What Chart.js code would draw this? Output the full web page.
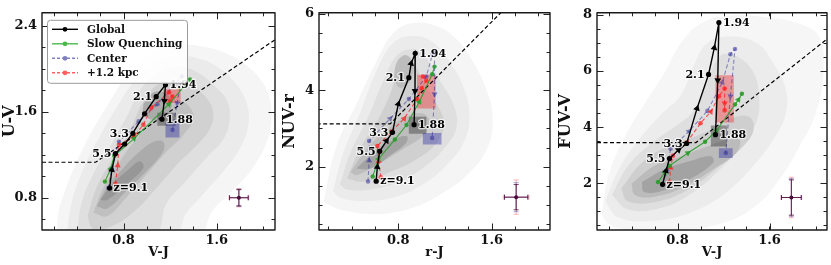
<!DOCTYPE html>
<html>
<head>
<meta charset="utf-8">
<script src="https://cdn.jsdelivr.net/npm/chart.js@4.4.0/dist/chart.umd.min.js"></script>
<style>
  html, body { margin: 0; padding: 0; background: #fff; }
  #wrap { position: relative; width: 831px; height: 265px; }
  canvas { position: absolute; top: 0; }
</style>
</head>
<body>
<div id="wrap">
  <canvas id="uvj" width="280" height="265" style="left:0px"></canvas>
  <canvas id="nuv" width="276" height="265" style="left:280px"></canvas>
  <canvas id="fuv" width="275" height="265" style="left:556px"></canvas>
</div>
<script>
const SERIF = '"DejaVu Serif", "Liberation Serif", serif';

const trackNames = ['Global', 'Slow Quenching', 'Center', '+1.2 kpc'];
const zLabels = ['z=9.1', '5.5', '3.3', '2.1', '1.94', '1.88'];
const zLabelRight = [true, false, false, false, true, true];

// ---------- panel 1: U-V vs V-J ----------
const uvjXTicks = [0.8, 1.6];
const uvjYTicks = [0.8, 1.6, 2.4];
const uvjContours = [
  [[0.23,0.45],[0.24,0.66],[0.31,0.90],[0.40,1.14],[0.54,1.44],[0.69,1.71],[0.83,1.94],[1.00,2.12],[1.23,2.21],[1.46,2.21],[1.69,2.14],[1.89,2.00],[2.03,1.80],[2.07,1.56],[2.03,1.32],[1.91,1.08],[1.74,0.87],[1.57,0.69],[1.43,0.45]],
  [[0.31,0.45],[0.36,0.78],[0.46,1.08],[0.60,1.38],[0.74,1.64],[0.89,1.88],[1.06,2.05],[1.26,2.12],[1.46,2.09],[1.63,2.00],[1.77,1.85],[1.86,1.67],[1.87,1.47],[1.80,1.26],[1.66,1.05],[1.49,0.84],[1.34,0.66],[1.23,0.45]],
  [[0.40,0.45],[0.44,0.75],[0.54,1.02],[0.69,1.29],[0.83,1.56],[0.94,1.80],[1.09,1.96],[1.26,2.02],[1.43,1.97],[1.57,1.85],[1.69,1.70],[1.71,1.53],[1.66,1.35],[1.51,1.17],[1.34,0.96],[1.17,0.75],[1.06,0.45]],
  [[0.49,0.63],[0.57,0.90],[0.71,1.17],[0.86,1.44],[0.97,1.70],[1.09,1.85],[1.23,1.90],[1.37,1.85],[1.51,1.73],[1.57,1.59],[1.54,1.44],[1.43,1.29],[1.26,1.11],[1.09,0.90],[0.91,0.69],[0.71,0.54],[0.54,0.51]],
  [[0.54,0.66],[0.63,0.90],[0.77,1.14],[0.91,1.35],[1.06,1.53],[1.17,1.67],[1.29,1.70],[1.37,1.64],[1.40,1.53],[1.31,1.38],[1.17,1.23],[1.00,1.02],[0.83,0.81],[0.66,0.63]],
  [[0.57,0.72],[0.66,0.90],[0.80,1.08],[0.94,1.23],[1.06,1.32],[1.14,1.32],[1.14,1.23],[1.00,1.05],[0.83,0.87],[0.66,0.70]],
  [[0.97,1.67],[1.03,1.76],[1.11,1.79],[1.20,1.73],[1.20,1.61],[1.11,1.53],[1.03,1.53],[0.97,1.58]],
  [[0.60,0.78],[0.69,0.91],[0.83,1.05],[0.94,1.14],[0.97,1.08],[0.83,0.93],[0.66,0.78]]
];
const uvjShades = ['#f5f5f5', '#ebebeb', '#dfdfdf', '#d1d1d1', '#c0c0c0', '#ababab', '#ababab', '#979797'];
const uvjCut = [[0.1,1.13],[0.56,1.13],[2.1,2.27]];
const uvjGlobal = [[0.68,0.89],[0.70,1.06],[0.73,1.21],[0.81,1.30],[0.88,1.40],[0.98,1.58],[1.08,1.74],[1.16,1.85],[1.15,1.70],[1.13,1.53]];
const uvjGlobalArrows = [1, 8];
const uvjSlow = [[0.64,0.95],[0.69,1.07],[0.72,1.19],[0.89,1.35],[1.19,1.67],[1.37,1.90]];
const uvjSlowArrows = [1, 3, 4];
const uvjCenter = [[0.67,0.89],[0.70,1.08],[0.76,1.32],[0.93,1.51],[1.09,1.67],[1.30,1.93],[1.26,1.68],[1.22,1.43]];
const uvjCenterArrows = [1, 6];
const uvjOuter = [[0.73,0.93],[0.75,1.10],[0.76,1.29],[0.89,1.37],[0.97,1.48],[1.04,1.64],[1.19,1.78],[1.22,1.74],[1.20,1.70]];
const uvjOuterArrows = [1, 3];
const uvjLabelIdx = [0, 2, 4, 6, 7, 9];
// boxes: [x0, x1, y0, y1] for global, center, +1.2 kpc
const uvjBoxGlobal = [1.09, 1.25, 1.47, 1.59];
const uvjBoxCenter = [1.16, 1.28, 1.36, 1.50];
const uvjBoxOuter = [1.14, 1.29, 1.68, 1.81];
const uvjErrCenter = [1.79, 0.80];
const uvjErrX = [0.085, 0.08, 0.08];   // +1.2 kpc, center, global
const uvjErrY = [0.085, 0.08, 0.075];

// ---------- panel 2: NUV-r vs r-J ----------
const nuvXTicks = [0.8, 1.6];
const nuvYTicks = [2, 4, 6];
const nuvContours = [
  [[0.16,1.10],[0.27,2.54],[0.44,3.64],[0.61,4.75],[0.76,5.51],[0.93,5.76],[1.13,5.68],[1.30,5.34],[1.44,4.75],[1.56,3.98],[1.61,3.22],[1.56,2.46],[1.39,1.78],[1.16,1.27],[0.93,0.93],[0.64,0.76],[0.33,0.85],[0.19,1.02]],
  [[0.24,1.36],[0.33,2.37],[0.47,3.39],[0.61,4.49],[0.76,5.25],[0.93,5.42],[1.10,5.25],[1.24,4.75],[1.36,4.07],[1.41,3.31],[1.36,2.63],[1.21,2.03],[1.01,1.53],[0.76,1.19],[0.47,1.10],[0.30,1.19]],
  [[0.30,1.53],[0.39,2.37],[0.53,3.22],[0.67,4.24],[0.79,4.92],[0.93,5.08],[1.04,4.83],[1.16,4.24],[1.27,3.64],[1.30,3.05],[1.21,2.54],[1.04,2.03],[0.81,1.61],[0.56,1.40],[0.36,1.40]],
  [[0.36,1.69],[0.47,2.46],[0.61,3.14],[0.73,3.90],[0.81,4.58],[0.93,4.66],[1.01,4.24],[1.13,3.64],[1.19,3.14],[1.13,2.63],[0.96,2.20],[0.73,1.86],[0.50,1.61]],
  [[0.39,1.86],[0.53,2.46],[0.70,2.97],[0.87,3.31],[1.01,3.39],[1.07,3.14],[1.01,2.80],[0.84,2.46],[0.61,2.03],[0.44,1.78]],
  [[0.76,4.32],[0.79,4.75],[0.87,4.92],[0.93,4.66],[0.90,4.24],[0.81,4.07]],
  [[0.44,1.95],[0.59,2.37],[0.76,2.71],[0.87,2.80],[0.87,2.63],[0.73,2.29],[0.56,1.95]]
];
const nuvShades = ['#f5f5f5', '#ebebeb', '#dfdfdf', '#d0d0d0', '#bdbdbd', '#bdbdbd', '#a3a3a3'];
const nuvCut = [[0.1,3.12],[0.73,3.12],[1.70,6.10]];
const nuvGlobal = [[0.61,1.62],[0.62,1.99],[0.64,2.40],[0.70,2.68],[0.75,2.90],[0.80,3.64],[0.89,4.33],[0.91,4.70],[0.945,4.97],[0.943,3.98],[0.935,3.10]];
const nuvGlobalArrows = [1, 3, 5, 7, 9];
const nuvSlow = [[0.58,1.74],[0.63,2.20],[0.77,2.71],[0.87,3.09],[0.98,3.70],[1.09,4.42],[1.11,4.62]];
const nuvSlowArrows = [1, 4];
const nuvCenter = [[0.54,1.61],[0.55,2.16],[0.55,2.67],[0.73,3.26],[0.89,3.77],[1.04,4.36],[1.09,4.92],[1.11,5.02],[1.11,3.90],[1.09,2.75]];
const nuvCenterArrows = [1, 3, 8];
const nuvOuter = [[0.65,1.72],[0.63,2.14],[0.62,2.54],[0.74,2.92],[0.85,3.26],[0.96,3.77],[1.00,4.05],[1.04,4.25],[1.01,4.36]];
const nuvOuterArrows = [1, 4];
const nuvLabelIdx = [0, 2, 4, 6, 8, 10];
const nuvBoxGlobal = [0.89, 1.04, 2.86, 3.31];
const nuvBoxCenter = [1.01, 1.17, 2.58, 2.88];
const nuvBoxOuter = [0.96, 1.12, 3.52, 4.41];
const nuvErrCenter = [1.81, 1.20];
const nuvErrX = [0.11, 0.10, 0.10];
const nuvErrY = [0.45, 0.38, 0.33];

// ---------- panel 3: FUV-V vs V-J ----------
const fuvXTicks = [0.8, 1.6];
const fuvYTicks = [2, 4, 6, 8];
const fuvContours = [
  [[0.14,0.89],[0.20,2.27],[0.34,3.65],[0.51,4.81],[0.69,5.96],[0.83,7.00],[1.00,7.69],[1.26,7.98],[1.57,7.92],[1.86,7.69],[2.03,7.23],[2.07,5.96],[2.00,4.46],[1.86,3.31],[1.69,2.15],[1.46,1.12],[1.17,0.54],[0.77,0.31],[0.40,0.31],[0.20,0.54]],
  [[0.17,1.35],[0.29,2.50],[0.46,3.54],[0.66,4.46],[0.83,5.15],[0.94,6.19],[1.06,7.00],[1.26,7.23],[1.49,7.00],[1.63,6.31],[1.74,5.38],[1.74,4.46],[1.63,3.54],[1.46,2.62],[1.23,1.69],[0.94,1.00],[0.60,0.66],[0.29,0.77]],
  [[0.23,1.58],[0.37,2.62],[0.57,3.42],[0.77,4.00],[0.94,4.58],[1.06,5.61],[1.17,6.54],[1.31,6.54],[1.46,5.96],[1.51,5.04],[1.49,4.23],[1.37,3.42],[1.17,2.50],[0.94,1.69],[0.66,1.12],[0.37,1.06]],
  [[0.31,1.81],[0.49,2.73],[0.71,3.31],[0.94,3.65],[1.14,4.00],[1.29,4.35],[1.43,4.35],[1.46,3.88],[1.37,3.31],[1.17,2.62],[0.91,1.81],[0.63,1.35],[0.37,1.35]],
  [[0.40,1.98],[0.60,2.62],[0.83,2.96],[1.06,3.31],[1.23,3.54],[1.34,3.54],[1.31,3.08],[1.11,2.50],[0.86,1.87],[0.60,1.52],[0.43,1.58]],
  [[0.49,2.04],[0.69,2.50],[0.91,2.79],[1.09,2.96],[1.11,2.73],[0.91,2.15],[0.69,1.75],[0.51,1.69]]
];
const fuvShades = ['#f6f6f6', '#ececec', '#dfdfdf', '#cfcfcf', '#bbbbbb', '#a3a3a3'];
const fuvCut = [[0.1,3.45],[0.96,3.45],[2.1,7.14]];
const fuvGlobal = [[0.67,1.96],[0.70,2.44],[0.73,2.88],[0.81,3.19],[0.88,3.42],[0.97,4.67],[1.07,5.88],[1.12,6.83],[1.16,7.73],[1.15,5.67],[1.13,3.73]];
const fuvGlobalArrows = [1, 3, 5, 7, 9];
const fuvSlow = [[0.63,2.04],[0.69,2.38],[0.73,2.62],[0.89,3.08],[1.04,3.48],[1.14,3.88],[1.30,4.81],[1.33,4.98],[1.36,5.19]];
const fuvSlowArrows = [1, 3, 5, 7];
const fuvCenter = [[0.67,1.95],[0.71,2.50],[0.74,3.23],[0.90,3.85],[1.06,4.58],[1.19,5.60],[1.26,6.60],[1.30,6.79],[1.26,5.10],[1.22,3.08]];
const fuvCenterArrows = [1, 3, 5, 8];
const fuvOuter = [[0.73,2.04],[0.74,2.56],[0.76,2.98],[0.88,3.45],[1.00,4.14],[1.09,4.55],[1.16,5.10],[1.21,5.38],[1.21,4.85],[1.21,4.60]];
const fuvOuterArrows = [1, 5, 8];
const fuvLabelIdx = [0, 2, 4, 6, 8, 10];
const fuvBoxGlobal = [1.09, 1.23, 3.31, 4.06];
const fuvBoxCenter = [1.16, 1.28, 2.90, 3.25];
const fuvBoxOuter = [1.13, 1.29, 4.17, 5.85];
const fuvErrCenter = [1.79, 1.49];
const fuvErrX = [0.09, 0.086, 0.086];
const fuvErrY = [0.72, 0.67, 0.63];

// ---------- styling ----------
const colGlobal = '#000000';
const colSlow = 'rgba(40,155,40,0.9)';
const colCenter = 'rgba(40,40,150,0.5)';
const colOuter = 'rgba(255,25,25,0.72)';
const legendColors = ['#000000', '#4cb84c', '#8080c0', '#ff6060'];
const errColors = ['rgba(255,90,90,0.45)', 'rgba(60,60,170,0.45)', 'rgba(70,0,50,0.75)'];

function polygon(pts, color, tension) {
  const d = pts.map(p => ({x: p[0], y: p[1]}));
  d.push({x: pts[0][0], y: pts[0][1]});
  return {data: d, backgroundColor: color, borderColor: 'rgba(0,0,0,0)', borderWidth: 0,
          fill: 'shape', pointRadius: 0, tension: tension};
}

function box(b, color) {
  return polygon([[b[0], b[2]], [b[1], b[2]], [b[1], b[3]], [b[0], b[3]]], color, 0);
}

function arrowAngle(c) {
  if (c.type !== 'data') return 0;
  const d = c.dataset.data, i = c.dataIndex;
  const a = d[Math.max(i - 1, 0)], b = d[Math.min(i + 1, d.length - 1)];
  const xs = c.chart.scales.x, ys = c.chart.scales.y;
  const dx = xs.getPixelForValue(b.x) - xs.getPixelForValue(a.x);
  const dy = ys.getPixelForValue(b.y) - ys.getPixelForValue(a.y);
  return Math.atan2(dx, -dy) * 180 / Math.PI;
}

function track(pts, arrows, color, dash, width, r) {
  return {
    data: pts.map(p => ({x: p[0], y: p[1]})),
    borderColor: color, borderWidth: width, borderDash: dash, fill: false, tension: 0,
    pointStyle: c => arrows.includes(c.dataIndex) ? 'triangle' : 'circle',
    pointRadius: c => arrows.includes(c.dataIndex) ? r + 1.3 : r,
    pointRotation: arrowAngle,
    pointBackgroundColor: color, pointBorderColor: color, pointBorderWidth: 0
  };
}

function minorList(min, max, step) {
  const out = [];
  for (let v = Math.ceil(min / step - 1e-9) * step; v <= max + 1e-9; v += step) out.push(v);
  return out;
}

function decor(p) {
  return {
    id: 'decor',
    afterDatasetsDraw(chart) {
      const {ctx, chartArea: a, scales: {x, y}} = chart;
      ctx.save();
      // error bars
      const cx = x.getPixelForValue(p.errCenter[0]), cy = y.getPixelForValue(p.errCenter[1]);
      for (let k = 0; k < 3; k++) {
        const x0 = x.getPixelForValue(p.errCenter[0] - p.errX[k]);
        const x1 = x.getPixelForValue(p.errCenter[0] + p.errX[k]);
        const y0 = y.getPixelForValue(p.errCenter[1] - p.errY[k]);
        const y1 = y.getPixelForValue(p.errCenter[1] + p.errY[k]);
        const c = 2.5;
        ctx.strokeStyle = errColors[k];
        ctx.lineWidth = 1;
        ctx.beginPath();
        ctx.moveTo(x0, cy); ctx.lineTo(x1, cy);
        ctx.moveTo(cx, y0); ctx.lineTo(cx, y1);
        ctx.moveTo(x0, cy - c); ctx.lineTo(x0, cy + c);
        ctx.moveTo(x1, cy - c); ctx.lineTo(x1, cy + c);
        ctx.moveTo(cx - c, y0); ctx.lineTo(cx + c, y0);
        ctx.moveTo(cx - c, y1); ctx.lineTo(cx + c, y1);
        ctx.stroke();
      }
      ctx.fillStyle = '#4a0a3a';
      ctx.beginPath(); ctx.arc(cx, cy, 2, 0, 2 * Math.PI); ctx.fill();

      // redshift labels
      ctx.font = 'bold 11px ' + SERIF;
      ctx.textBaseline = 'middle';
      ctx.lineJoin = 'round';
      p.labelIdx.forEach((idx, k) => {
        const pt = p.global[idx];
        const px = x.getPixelForValue(pt[0]), py = y.getPixelForValue(pt[1]);
        const right = zLabelRight[k];
        ctx.textAlign = right ? 'left' : 'right';
        const tx = right ? px + 4 : px - 4;
        ctx.strokeStyle = 'rgba(255,255,255,0.7)';
        ctx.lineWidth = 2.5;
        ctx.strokeText(zLabels[k], tx, py + 0.5);
        ctx.fillStyle = '#000';
        ctx.fillText(zLabels[k], tx, py + 0.5);
      });

      // inward ticks on all four sides
      ctx.strokeStyle = '#222';
      ctx.lineWidth = 1;
      const xt = (vals, len) => vals.forEach(v => {
        const px = Math.round(x.getPixelForValue(v)) + 0.5;
        ctx.beginPath();
        ctx.moveTo(px, a.bottom); ctx.lineTo(px, a.bottom - len);
        ctx.moveTo(px, a.top); ctx.lineTo(px, a.top + len);
        ctx.stroke();
      });
      const yt = (vals, len) => vals.forEach(v => {
        const py = Math.round(y.getPixelForValue(v)) + 0.5;
        ctx.beginPath();
        ctx.moveTo(a.left, py); ctx.lineTo(a.left + len, py);
        ctx.moveTo(a.right, py); ctx.lineTo(a.right - len, py);
        ctx.stroke();
      });
      xt(minorList(x.min, x.max, p.xMinor), 3.5);
      yt(minorList(y.min, y.max, p.yMinor), 3.5);
      xt(p.xTicks, 6.5);
      yt(p.yTicks, 6.5);

      // frame
      ctx.lineWidth = 1.4;
      ctx.strokeStyle = '#1a1a1a';
      ctx.strokeRect(a.left, a.top, a.right - a.left, a.bottom - a.top);
      ctx.restore();
    },
    afterDraw(chart) {
      if (!p.legend) return;
      const {ctx, chartArea: a} = chart;
      const bx = a.left + 5, by = a.top + 7, bw = 140, bh = 63;
      ctx.save();
      ctx.fillStyle = 'rgba(255,255,255,0.88)';
      ctx.strokeStyle = '#9a9a9a';
      ctx.lineWidth = 1;
      ctx.beginPath();
      ctx.roundRect(bx + 0.5, by + 0.5, bw, bh, 3);
      ctx.fill(); ctx.stroke();
      trackNames.forEach((name, i) => {
        const yy = by + 9.5 + i * 14.5;
        ctx.strokeStyle = legendColors[i];
        ctx.lineWidth = 1.4;
        ctx.setLineDash(i >= 2 ? [3, 2] : []);
        ctx.beginPath(); ctx.moveTo(bx + 5, yy); ctx.lineTo(bx + 31, yy); ctx.stroke();
        ctx.setLineDash([]);
        ctx.fillStyle = legendColors[i];
        ctx.beginPath(); ctx.arc(bx + 18, yy, 2.4, 0, 2 * Math.PI); ctx.fill();
        ctx.fillStyle = '#111';
        ctx.font = 'bold 10.5px ' + SERIF;
        ctx.textBaseline = 'middle';
        ctx.textAlign = 'left';
        ctx.fillText(name, bx + 40, yy + 0.5);
      });
      ctx.restore();
    }
  };
}

function makePanel(id, p) {
  // bottom to top
  const sets = [];
  p.contours.forEach((poly, i) => sets.push(polygon(poly, p.shades[i], 0.4)));
  sets.push(box(p.boxGlobal, 'rgba(60,60,60,0.45)'));
  sets.push(box(p.boxCenter, 'rgba(40,40,160,0.4)'));
  sets.push(box(p.boxOuter, 'rgba(240,40,40,0.4)'));
  sets.push({data: p.cut.map(q => ({x: q[0], y: q[1]})), borderColor: '#000', borderWidth: 1.2,
             borderDash: [4, 2.5], pointRadius: 0, fill: false, tension: 0});
  sets.push(track(p.center, p.centerArrows, colCenter, [4, 2.5], 1.1, 2.3));
  sets.push(track(p.outer, p.outerArrows, colOuter, [4, 2.5], 1.1, 2.3));
  sets.push(track(p.slow, p.slowArrows, colSlow, [], 1.1, 2.2));
  sets.push(track(p.global, p.globalArrows, colGlobal, [], 1.4, 2.6));
  sets.reverse();

  const tickFont = {family: SERIF, size: 13, weight: 'bold'};
  new Chart(document.getElementById(id), {
    type: 'line',
    data: {datasets: sets},
    options: {
      responsive: false,
      animation: false,
      events: [],
      layout: {padding: {left: 0, right: p.padRight, top: 6, bottom: 0}},
      plugins: {legend: {display: false}, tooltip: {enabled: false}},
      scales: {
        x: {
          type: 'linear', min: p.xRange[0], max: p.xRange[1],
          afterBuildTicks: s => { s.ticks = p.xTicks.map(v => ({value: v})); },
          afterFit: s => { s.height = 35; },
          grid: {display: false, drawTicks: false},
          border: {display: false},
          ticks: {padding: 3, font: tickFont, color: '#111', maxRotation: 0},
          title: {display: true, text: p.xTitle, color: '#111',
                  font: {family: SERIF, size: 13, weight: 'bold'}, padding: {top: 0, bottom: 5}}
        },
        y: {
          type: 'linear', min: p.yRange[0], max: p.yRange[1],
          afterBuildTicks: s => { s.ticks = p.yTicks.map(v => ({value: v})); },
          afterFit: s => { s.width = p.yWidth; },
          grid: {display: false, drawTicks: false},
          border: {display: false},
          ticks: {padding: 5, font: tickFont, color: '#111'},
          title: {display: true, text: p.yTitle, color: '#111',
                  font: {family: SERIF, size: 16, weight: 'bold'}, padding: {top: 0, bottom: 0}}
        }
      }
    },
    plugins: [decor(p)]
  });
}

makePanel('uvj', {
  xRange: [0.1, 2.1], yRange: [0.5, 2.52], xTicks: uvjXTicks, yTicks: uvjYTicks,
  xMinor: 0.2, yMinor: 0.2, xTitle: 'V-J', yTitle: 'U-V', yWidth: 42, padRight: 5,
  contours: uvjContours, shades: uvjShades, cut: uvjCut,
  global: uvjGlobal, globalArrows: uvjGlobalArrows, slow: uvjSlow, slowArrows: uvjSlowArrows,
  center: uvjCenter, centerArrows: uvjCenterArrows, outer: uvjOuter, outerArrows: uvjOuterArrows,
  boxGlobal: uvjBoxGlobal, boxCenter: uvjBoxCenter, boxOuter: uvjBoxOuter,
  errCenter: uvjErrCenter, errX: uvjErrX, errY: uvjErrY, labelIdx: uvjLabelIdx, legend: true
});

makePanel('nuv', {
  xRange: [0.12, 2.1], yRange: [0.34, 6.03], xTicks: nuvXTicks, yTicks: nuvYTicks,
  xMinor: 0.2, yMinor: 0.5, xTitle: 'r-J', yTitle: 'NUV-r', yWidth: 39, padRight: 6,
  contours: nuvContours, shades: nuvShades, cut: nuvCut,
  global: nuvGlobal, globalArrows: nuvGlobalArrows, slow: nuvSlow, slowArrows: nuvSlowArrows,
  center: nuvCenter, centerArrows: nuvCenterArrows, outer: nuvOuter, outerArrows: nuvOuterArrows,
  boxGlobal: nuvBoxGlobal, boxCenter: nuvBoxCenter, boxOuter: nuvBoxOuter,
  errCenter: nuvErrCenter, errX: nuvErrX, errY: nuvErrY, labelIdx: nuvLabelIdx, legend: false
});

makePanel('fuv', {
  xRange: [0.1, 2.1], yRange: [0.33, 8.08], xTicks: fuvXTicks, yTicks: fuvYTicks,
  xMinor: 0.2, yMinor: 0.5, xTitle: 'V-J', yTitle: 'FUV-V', yWidth: 41, padRight: 3,
  contours: fuvContours, shades: fuvShades, cut: fuvCut,
  global: fuvGlobal, globalArrows: fuvGlobalArrows, slow: fuvSlow, slowArrows: fuvSlowArrows,
  center: fuvCenter, centerArrows: fuvCenterArrows, outer: fuvOuter, outerArrows: fuvOuterArrows,
  boxGlobal: fuvBoxGlobal, boxCenter: fuvBoxCenter, boxOuter: fuvBoxOuter,
  errCenter: fuvErrCenter, errX: fuvErrX, errY: fuvErrY, labelIdx: fuvLabelIdx, legend: false
});
</script>
</body>
</html>
